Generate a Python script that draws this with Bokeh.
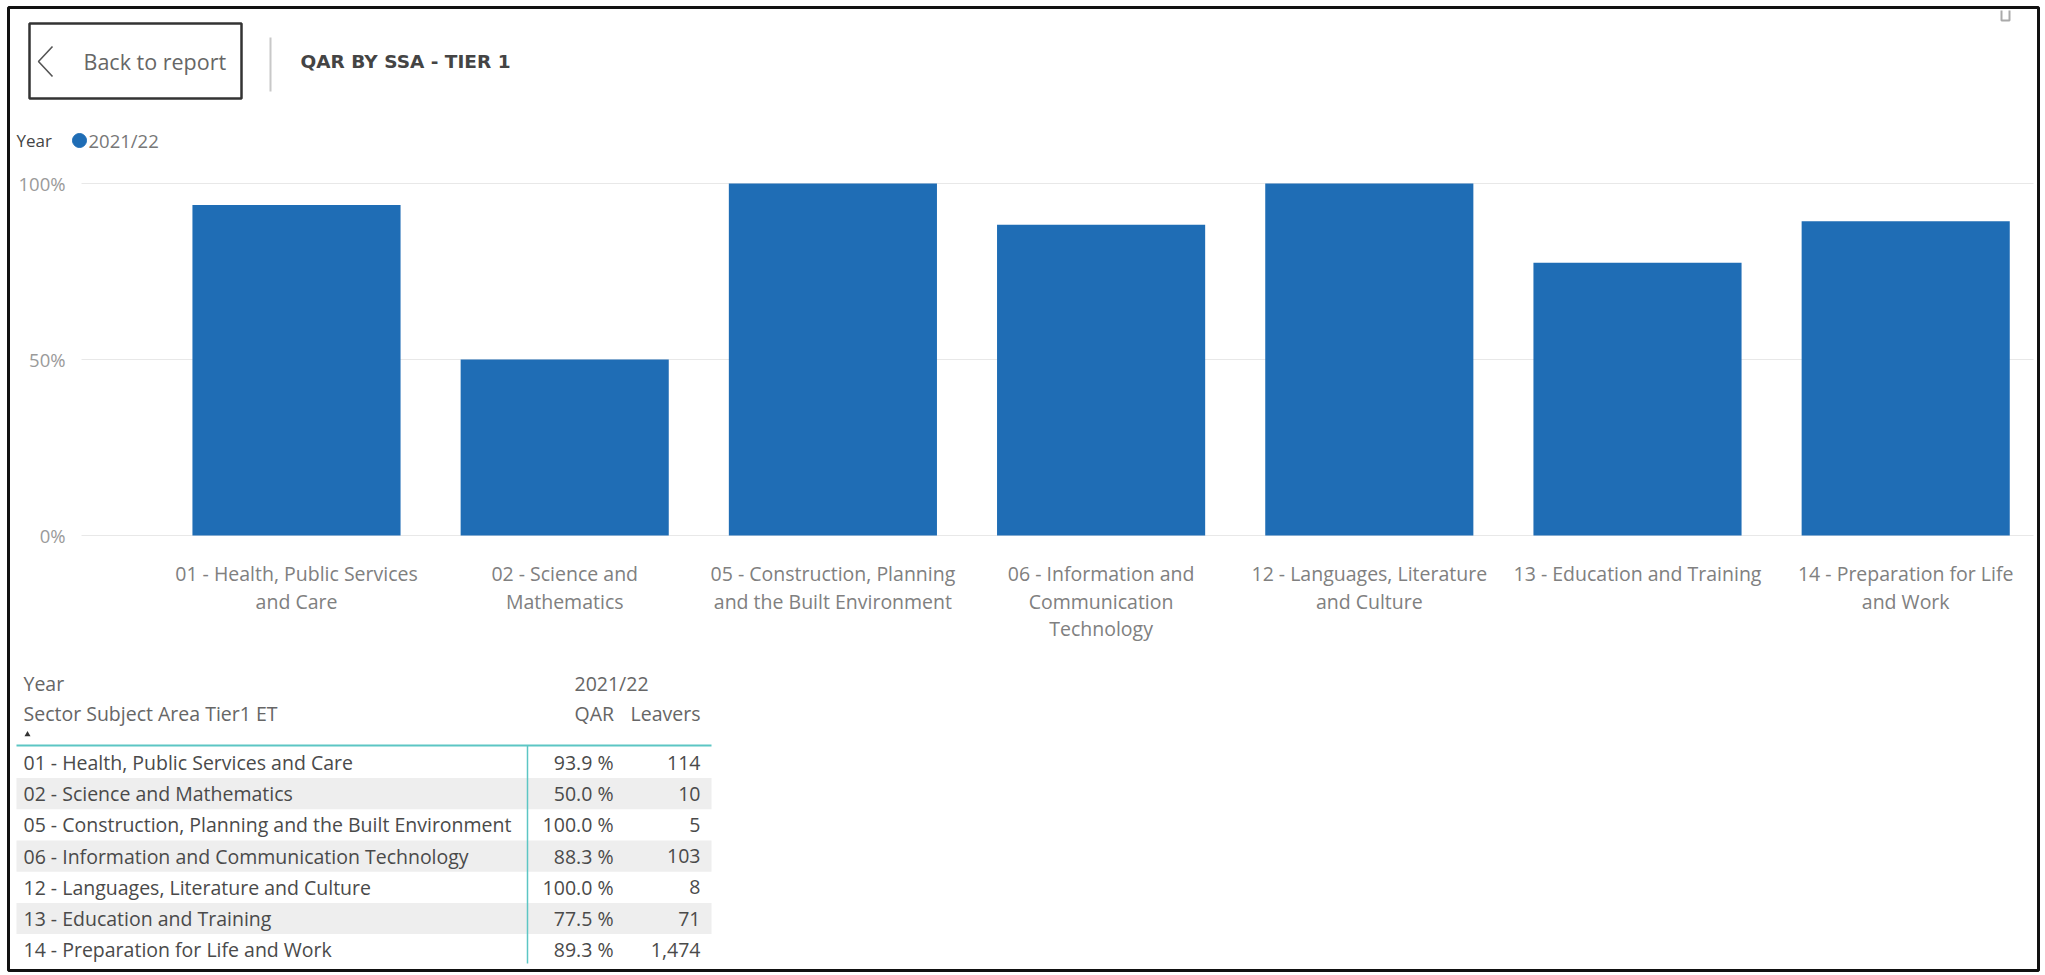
from bokeh.plotting import figure
from bokeh.models import Range1d, ColumnDataSource
from bokeh.core.properties import value
from bokeh.embed import file_html
from bokeh.resources import INLINE

# ---------------- data ----------------
categories = [
    "01 - Health, Public Services and Care",
    "02 - Science and Mathematics",
    "05 - Construction, Planning and the Built Environment",
    "06 - Information and Communication Technology",
    "12 - Languages, Literature and Culture",
    "13 - Education and Training",
    "14 - Preparation for Life and Work",
]
category_label_lines = [
    ["01 - Health, Public Services", "and Care"],
    ["02 - Science and", "Mathematics"],
    ["05 - Construction, Planning", "and the Built Environment"],
    ["06 - Information and", "Communication", "Technology"],
    ["12 - Languages, Literature", "and Culture"],
    ["13 - Education and Training"],
    ["14 - Preparation for Life", "and Work"],
]
qar = [93.9, 50.0, 100.0, 88.3, 100.0, 77.5, 89.3]
leavers = [114, 10, 5, 103, 8, 71, 1474]
year = "2021/22"
y_ticks = [0, 50, 100]
y_tick_labels = ["0%", "50%", "100%"]

# ---------------- layout constants (page pixels) ----------------
W, H = 2042, 973
BAR0_X, STEP = 296.0, 268.2          # centre of first category, category step
Y_ZERO, Y_FULL = 535.0, 183.0        # page y of 0% and 100%
PX_PER_PCT = (Y_ZERO - Y_FULL) / 100.0

FONT = value("Open Sans")
BLUE = "#1F6DB5"
TEAL = "#5CC6C4"

p = figure(width=W, height=H,
           x_range=Range1d(0, W), y_range=Range1d(H, 0),
           x_axis_type=None, y_axis_type=None,
           output_backend="svg", toolbar_location=None, min_border=0,
           background_fill_color="white", border_fill_color="white")
p.grid.visible = False
p.outline_line_color = None

p.extra_x_ranges = {"cat": Range1d((0 - BAR0_X) / STEP, (W - BAR0_X) / STEP)}
p.extra_y_ranges = {"pct": Range1d(-(H - Y_ZERO) / PX_PER_PCT, Y_ZERO / PX_PER_PCT)}

# outer frame
p.quad(left=[8], right=[2038], top=[7], bottom=[970], fill_color=None,
       line_color="#111111", line_width=3)

# ---------------- header ----------------
p.quad(left=[29], right=[241], top=[23], bottom=[98], fill_color=None,
       line_color="#333333", line_width=2.5)
p.line([52, 38, 52], [46, 61, 76], line_color="#555555", line_width=1.6)
p.text(x=[83], y=[61], text=["Back to report"], text_font=FONT, text_font_size="21.5px",
       text_color="#666666", text_baseline="middle")
p.segment(x0=[270], y0=[37], x1=[270], y1=[91], line_color="#C8C8C8", line_width=2)
p.text(x=[300], y=[61], text=["QAR BY SSA - TIER 1"], text_font=value("DejaVu Sans"),
       text_font_style="bold", text_font_size="18.5px", text_color="#444444",
       text_baseline="middle")
p.line([2001, 2001, 2009, 2009], [10, 20, 20, 10], line_color="#AAAAAA", line_width=2)

# legend
p.text(x=[16], y=[140], text=["Year"], text_font=FONT, text_font_size="17px",
       text_color="#444444", text_baseline="middle")
p.scatter(x=[79], y=[140], size=14, marker="circle", fill_color=BLUE, line_color=BLUE)
p.text(x=[88], y=[140], text=[year], text_font=FONT, text_font_size="18.5px",
       text_color="#777777", text_baseline="middle")

# ---------------- bar chart ----------------
idx = list(range(len(categories)))
p.segment(x0=[81] * len(y_ticks), x1=[2033] * len(y_ticks), y0=y_ticks, y1=y_ticks,
          y_range_name="pct", line_color="#E8E8E8", line_width=1)
p.text(x=[65] * len(y_ticks), y=y_ticks, text=y_tick_labels, y_range_name="pct",
       text_font=FONT, text_font_size="18.5px", text_color="#9A9A9A",
       text_align="right", text_baseline="middle")

bars = ColumnDataSource(dict(x=idx, top=qar, cat=categories))
p.vbar(x="x", top="top", bottom=0, width=0.776, source=bars,
       x_range_name="cat", y_range_name="pct", fill_color=BLUE, line_color=None)

lx, ly, lt = [], [], []
for i, lines in enumerate(category_label_lines):
    for j, t in enumerate(lines):
        lx.append(i)
        ly.append(573 + j * 27.5)
        lt.append(t)
p.text(x=lx, y=ly, text=lt, x_range_name="cat", text_font=FONT, text_font_size="19.5px",
       text_color="#808080", text_align="center", text_baseline="middle")

# ---------------- table ----------------
TFS = "19.5px"
HDR_C = "#666666"
p.text(x=[23], y=[683], text=["Year"], text_font=FONT, text_font_size=TFS,
       text_color=HDR_C, text_baseline="middle")
p.text(x=[574], y=[683], text=[year], text_font=FONT, text_font_size=TFS,
       text_color=HDR_C, text_baseline="middle")
p.text(x=[23], y=[713], text=["Sector Subject Area Tier1 ET"], text_font=FONT,
       text_font_size=TFS, text_color=HDR_C, text_baseline="middle")
p.text(x=[574], y=[713], text=["QAR"], text_font=FONT, text_font_size=TFS,
       text_color=HDR_C, text_baseline="middle")
p.text(x=[700], y=[713], text=["Leavers"], text_font=FONT, text_font_size=TFS,
       text_color=HDR_C, text_baseline="middle", text_align="right")
p.scatter(x=[27], y=[734], marker="triangle", size=6, fill_color="#333333", line_color=None)

ROW0, ROW_H = 762.0, 31.2
row_y = [ROW0 + i * ROW_H for i in range(len(categories))]
shade = [i for i in range(len(categories)) if i % 2 == 1]
p.quad(left=[16] * len(shade), right=[711] * len(shade),
       top=[row_y[i] - ROW_H / 2 for i in shade], bottom=[row_y[i] + ROW_H / 2 for i in shade],
       fill_color="#EEEEEE", line_color=None)
p.segment(x0=[16], y0=[745], x1=[711], y1=[745], line_color=TEAL, line_width=2)
p.segment(x0=[527], y0=[745], x1=[527], y1=[963], line_color=TEAL, line_width=1.5)

ROW_C = "#4A4A4A"
p.text(x=[23] * len(categories), y=row_y, text=categories, text_font=FONT,
       text_font_size=TFS, text_color=ROW_C, text_baseline="middle")
p.text(x=[613] * len(categories), y=row_y, text=[f"{v:.1f} %" for v in qar], text_font=FONT,
       text_font_size=TFS, text_color=ROW_C, text_baseline="middle", text_align="right")
p.text(x=[700] * len(categories), y=row_y, text=[f"{v:,}" for v in leavers], text_font=FONT,
       text_font_size=TFS, text_color=ROW_C, text_baseline="middle", text_align="right")

open("out.html", "w").write(file_html(p, INLINE))
